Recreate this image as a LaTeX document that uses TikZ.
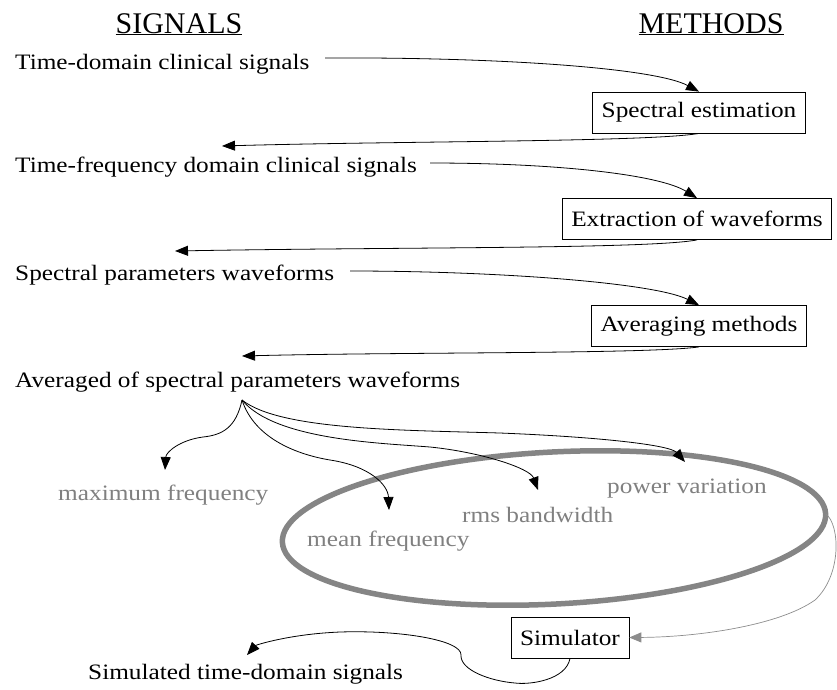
\documentclass[tikz,border=0pt]{standalone}
\usepackage{fontspec}
\setmainfont[FakeStretch=1.15]{Liberation Serif}
\newfontfamily\headfont{Liberation Serif}
\usetikzlibrary{arrows.meta}
\definecolor{labelgray}{HTML}{808080}
\definecolor{ringgray}{HTML}{858585}
\definecolor{feedgray}{HTML}{8C8C8C}
\begin{document}
\begin{tikzpicture}[x=1pt,y=-1pt,
  every node/.style={inner sep=0pt, font=\fontsize{22}{26}\selectfont},
  heading/.style={font=\headfont\fontsize{30}{34}\selectfont},
  sigtext/.style={anchor=base west},
  paramtext/.style={anchor=base west, text=labelgray},
  methodbox/.style={draw, line width=0.8pt, inner xsep=9pt, minimum height=41pt},
  flow/.style={line width=0.8pt, -{Triangle[length=13pt,width=10pt]}},
  feedback/.style={line width=0.7pt, draw=feedgray, -{Triangle[length=12pt,width=10pt,fill=feedgray]}}]
\useasboundingbox (0,0) rectangle (837,689);

% column headings
\node[heading, anchor=base] (sigh) at (179,33) {\underline{SIGNALS}};
\node[heading, anchor=base] (meth) at (711,33) {\underline{METHODS}};

% signals column
\node[sigtext] (t1) at (15,69) {Time-domain clinical signals};
\node[sigtext] (t2) at (15,172) {Time-frequency domain clinical signals};
\node[sigtext] (t3) at (15,280) {Spectral parameters waveforms};
\node[sigtext] (t4) at (15,387) {Averaged of spectral parameters waveforms};
\node[sigtext] (t5) at (88,679) {Simulated time-domain signals};

% methods column
\node[methodbox] (b1) at (699,112.5) {Spectral estimation};
\node[methodbox] (b2) at (697,219) {Extraction of waveforms};
\node[methodbox] (b3) at (699,326) {Averaging methods};
\node[methodbox] (sim) at (570,637.5) {Simulator};

% spectral parameters
\node[paramtext] (pmax) at (58,500) {maximum frequency};
\node[paramtext] (pmean) at (307,546) {mean frequency};
\node[paramtext] (prms) at (462,522) {rms bandwidth};
\node[paramtext] (ppow) at (607,493) {power variation};

% ring around the parameters used by the simulator
\draw[ringgray, line width=5.5pt, rotate around={3:(554,528)}] (554,528) ellipse [x radius=272, y radius=76];
\coordinate (ringR) at (826,514);

% attachment points
\coordinate (t1e) at (325,58);
\coordinate (t2e) at (430,163);
\coordinate (t3e) at (350,271);
\coordinate (fan) at (242,400);
\coordinate (r1t) at (222,146);
\coordinate (r2t) at (175,251);
\coordinate (r3t) at (242,356);
\coordinate (r4t) at (247,655);
\coordinate (maxt) at (165,470);
\coordinate (meant) at (389,510);
\coordinate (rmst) at (538,490);
\coordinate (powt) at (685,462);

% signal -> method
\draw[flow] (t1e) .. controls (500,57) and (655,68) .. (b1.north);
\draw[flow] (t2e) .. controls (560,163) and (660,175) .. (b2.north);
\draw[flow] (t3e) .. controls (500,271) and (655,283) .. (b3.north);

% method -> next signal
\draw[flow] (b1.south) .. controls (650,142) and (400,141) .. (r1t);
\draw[flow] (b2.south) .. controls (650,249) and (400,247) .. (r2t);
\draw[flow] (b3.south) .. controls (650,354) and (400,352) .. (r3t);

% fan out to the parameters
\draw[flow] (fan) .. controls (236,428) and (222,435) .. (203,437)
  .. controls (180,440) and (166,452) .. (maxt);
\draw[flow] (fan) .. controls (255,440) and (300,455) .. (330,460)
  .. controls (370,466) and (388,485) .. (meant);
\draw[flow] (fan) .. controls (275,440) and (380,443) .. (430,447)
  .. controls (480,452) and (530,468) .. (rmst);
\draw[flow] (fan) .. controls (280,430) and (400,430) .. (500,433)
  .. controls (600,437) and (670,445) .. (powt);

% ring -> simulator
\draw[feedback] (ringR) .. controls (840,525) and (842,575) .. (815,600)
  .. controls (780,625) and (700,637) .. (sim.east);

% simulator -> simulated signals
\draw[flow] (sim.south) .. controls (566,680) and (530,685) .. (515,683)
  .. controls (490,681) and (460,670) .. (461,655)
  .. controls (462,640) and (400,630) .. (340,632)
  .. controls (290,634) and (256,645) .. (r4t);
\end{tikzpicture}
\end{document}
